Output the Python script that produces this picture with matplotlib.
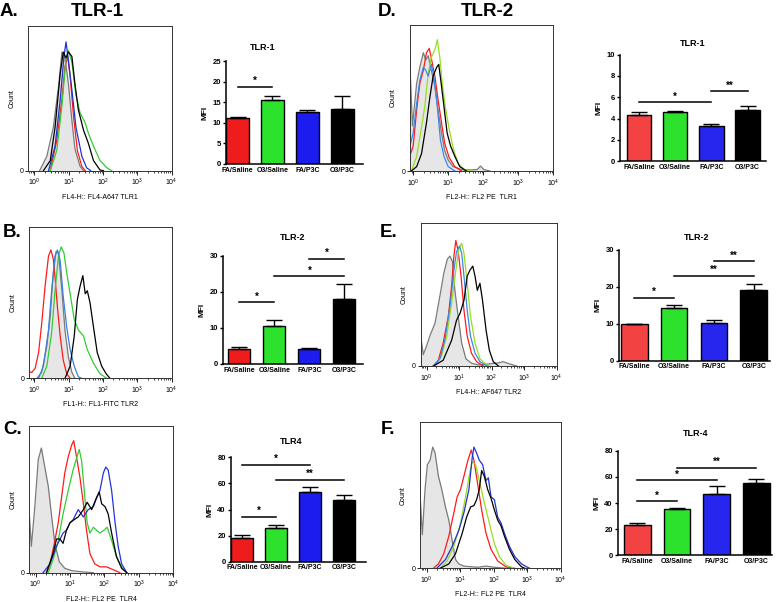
import matplotlib
matplotlib.use('Agg')
import matplotlib.pyplot as plt
import numpy as np
from matplotlib.ticker import LogLocator, NullFormatter

plt.rcParams['font.family'] = ['Liberation Sans', 'DejaVu Sans']

W, H = 778, 602

groups = ['FA/Saline', 'O3/Saline', 'FA/P3C', 'O3/P3C']

# bar charts: mean MFI, upper SEM, significance brackets (from, to, height, stars)
a_mfi = [11.1, 15.5, 12.7, 13.4]
a_sem = [0.4, 1.0, 0.4, 3.1]
a_sig = [(0, 1, 18.7, '*')]

b_mfi = [4.25, 10.55, 4.17, 18.1]
b_sem = [0.55, 1.65, 0.15, 4.0]
b_sig = [(0, 1, 17.1, '*'), (1, 3, 24.3, '*'), (2, 3, 29.1, '*')]

c_mfi = [18.4, 26.2, 53.6, 46.9]
c_sem = [1.9, 2.0, 3.6, 3.9]
c_sig = [(0, 1, 34.6, '*'), (0, 2, 74.1, '*'), (1, 3, 62.8, '**')]

d_mfi = [4.31, 4.59, 3.34, 4.84]
d_sem = [0.28, 0.15, 0.19, 0.31]
d_sig = [(0, 2, 5.53, '*'), (2, 3, 6.56, '**')]

e_mfi = [9.86, 14.36, 10.3, 19.1]
e_sem = [0.1, 0.7, 0.65, 1.7]
e_sig = [(0, 1, 17.0, '*'), (1, 3, 23.0, '**'), (2, 3, 27.0, '**')]

f_mfi = [23.2, 35.2, 47.1, 55.5]
f_sem = [1.3, 1.2, 5.9, 2.9]
f_sig = [(0, 1, 41.3, '*'), (0, 2, 57.4, '*'), (1, 3, 66.8, '**')]

# flow histograms: (log10 fluorescence, count as % of axis height)
a_gray = [(0.15, 0), (0.36, 10), (0.55, 30), (0.70, 58), (0.80, 82), (0.89, 78), (0.99, 60), (1.09, 35), (1.18, 15), (1.33, 3), (1.43, 0)]
a_red = [(0.46, 0), (0.65, 21), (0.80, 49), (0.89, 72), (0.97, 79), (1.04, 65), (1.14, 37), (1.25, 14), (1.38, 3), (1.48, 0)]
a_green = [(0.46, 0), (0.65, 14), (0.80, 45), (0.92, 78), (0.99, 83), (1.09, 75), (1.21, 52), (1.33, 40), (1.48, 33), (1.57, 26), (1.72, 17), (1.91, 7), (2.11, 2), (2.25, 0)]
a_blue = [(0.41, 0), (0.60, 17), (0.75, 49), (0.86, 79), (0.92, 89), (0.99, 76), (1.09, 56), (1.21, 30), (1.38, 10), (1.52, 2), (1.64, 0)]
a_black = [(0.26, 0), (0.46, 7), (0.60, 30), (0.75, 67), (0.84, 82), (0.92, 78), (0.99, 82), (1.09, 79), (1.18, 60), (1.28, 42), (1.43, 28), (1.57, 19), (1.72, 7), (1.91, 0.5), (2.01, 0)]

b_gray = [(0.07, 0), (0.21, 4), (0.36, 21), (0.46, 41), (0.55, 70), (0.63, 84), (0.70, 83), (0.80, 58), (0.89, 32), (0.99, 14), (1.09, 4), (1.18, 0)]
b_red = [(-0.15, 4.4), (-0.08, 3.8), (0.02, 6.6), (0.12, 17), (0.21, 36), (0.31, 61), (0.41, 81), (0.48, 85), (0.55, 79), (0.60, 67), (0.67, 47), (0.75, 28), (0.84, 12), (0.94, 3), (1.04, 0)]
b_green = [(0.21, 0), (0.36, 8), (0.50, 30), (0.60, 58), (0.70, 81), (0.78, 87), (0.86, 83), (0.94, 70), (1.04, 56), (1.16, 39), (1.28, 32), (1.43, 28), (1.54, 19), (1.72, 10), (1.91, 3), (2.11, 0)]
b_blue = [(0.12, 0), (0.26, 8), (0.41, 32), (0.50, 58), (0.60, 81), (0.67, 85), (0.75, 78), (0.84, 54), (0.94, 34), (1.04, 19), (1.16, 8), (1.28, 1), (1.38, 0)]
b_black = [(0.89, 0), (1.04, 8), (1.16, 28), (1.25, 52), (1.33, 61), (1.41, 68), (1.48, 56), (1.54, 58), (1.62, 50), (1.72, 34), (1.83, 17), (1.96, 8), (2.09, 3), (2.20, 0)]

c_gray = [(-0.18, 40), (-0.12, 18), (-0.02, 45), (0.08, 77), (0.17, 85), (0.27, 72), (0.37, 59), (0.47, 38), (0.56, 20), (0.69, 7.5), (0.85, 3), (1.05, 1.4), (1.39, 0.5), (1.68, 0)]
c_red = [(0.32, 0), (0.42, 6), (0.53, 18), (0.66, 34), (0.76, 52), (0.85, 68), (0.95, 79), (1.05, 87), (1.11, 90), (1.19, 79), (1.29, 65), (1.39, 47), (1.48, 29), (1.58, 13), (1.72, 6), (1.87, 4), (2.06, 4), (2.26, 2), (2.45, 0)]
c_green = [(0.37, 0), (0.51, 9), (0.66, 22), (0.80, 40), (0.95, 56), (1.09, 70), (1.19, 78), (1.27, 84), (1.34, 76), (1.43, 52), (1.50, 34), (1.58, 27), (1.68, 31), (1.77, 29), (1.87, 27), (1.99, 29), (2.08, 31), (2.21, 22), (2.35, 11), (2.50, 4), (2.65, 0)]
c_blue = [(0.22, 0), (0.42, 6), (0.61, 18), (0.80, 27), (0.90, 29), (1.00, 34), (1.09, 36), (1.24, 43), (1.39, 38), (1.53, 43), (1.68, 45), (1.79, 52), (1.87, 56), (1.97, 68), (2.04, 72), (2.11, 70), (2.21, 56), (2.31, 34), (2.40, 18), (2.50, 6), (2.65, 0)]
c_black = [(0.32, 0), (0.51, 13), (0.61, 23), (0.71, 23), (0.80, 20), (0.90, 29), (1.00, 34), (1.11, 36), (1.24, 38), (1.39, 43), (1.50, 48), (1.63, 43), (1.75, 50), (1.85, 55), (1.92, 47), (2.02, 45), (2.11, 40), (2.21, 27), (2.35, 11), (2.50, 3), (2.65, 0)]

d_gray = [(-0.10, 77), (-0.02, 31), (0.10, 60), (0.19, 71), (0.29, 81), (0.36, 76), (0.43, 79), (0.52, 69), (0.62, 58), (0.71, 42), (0.81, 26), (0.90, 14), (1.00, 7.5), (1.14, 3), (1.38, 1), (1.62, 0.7), (1.83, 1), (1.92, 3.4), (2.02, 1), (2.19, 0)]
d_red = [(-0.10, 10), (0.00, 17), (0.10, 42), (0.19, 60), (0.29, 69), (0.38, 81), (0.46, 84), (0.52, 77), (0.62, 65), (0.71, 49), (0.81, 33), (0.90, 19), (1.03, 9), (1.19, 3), (1.38, 0)]
d_green = [(-0.05, 0), (0.10, 10), (0.24, 30), (0.33, 44), (0.43, 67), (0.52, 78), (0.62, 83), (0.69, 90), (0.76, 78), (0.84, 58), (0.93, 42), (1.05, 26), (1.16, 14), (1.29, 5), (1.48, 0.7), (1.67, 0)]
d_blue = [(-0.10, 16), (0.00, 26), (0.10, 46), (0.19, 62), (0.29, 71), (0.36, 69), (0.43, 65), (0.52, 73), (0.59, 65), (0.69, 44), (0.78, 21), (0.88, 10), (1.00, 3), (1.19, 0)]
d_black = [(-0.05, 0), (0.10, 3), (0.24, 12), (0.38, 33), (0.48, 51), (0.57, 65), (0.67, 71), (0.73, 73), (0.81, 58), (0.89, 42), (0.97, 26), (1.07, 17), (1.19, 10), (1.33, 3), (1.52, 0)]

e_gray = [(-0.18, 21), (-0.10, 8), (0.00, 14), (0.10, 21), (0.26, 30), (0.41, 49), (0.53, 65), (0.64, 75), (0.72, 77), (0.80, 73), (0.87, 53), (0.97, 35), (1.08, 16), (1.21, 5), (1.38, 2), (1.59, 0.7), (2.15, 2), (2.36, 3), (2.56, 1.4), (2.77, 0)]
e_red = [(0.21, 0), (0.36, 4), (0.51, 16), (0.67, 35), (0.77, 56), (0.84, 77), (0.90, 88), (0.97, 81), (1.06, 63), (1.15, 39), (1.25, 21), (1.38, 9), (1.54, 3), (1.74, 0)]
e_green = [(0.26, 0), (0.46, 7), (0.62, 21), (0.77, 44), (0.90, 67), (0.99, 82), (1.08, 86), (1.15, 79), (1.25, 58), (1.35, 35), (1.49, 16), (1.64, 5), (1.85, 0.7), (1.95, 0)]
e_blue = [(0.21, 0), (0.41, 5), (0.56, 18), (0.72, 42), (0.84, 67), (0.92, 80), (1.01, 84), (1.08, 79), (1.15, 63), (1.25, 39), (1.35, 21), (1.49, 9), (1.64, 3), (1.85, 0)]
e_black = [(0.21, 0), (0.51, 4), (0.77, 18), (0.92, 32), (1.03, 37), (1.15, 46), (1.25, 63), (1.33, 67), (1.42, 70), (1.49, 63), (1.56, 53), (1.64, 58), (1.72, 46), (1.83, 25), (1.93, 11), (2.05, 3), (2.21, 0)]

f_gray = [(-0.20, 51), (-0.13, 23), (-0.05, 54), (0.02, 71), (0.10, 74), (0.18, 83), (0.25, 79), (0.35, 63), (0.45, 54), (0.56, 42), (0.66, 33), (0.76, 19), (0.86, 6), (0.96, 3), (1.11, 1.5), (1.52, 0.7), (1.77, 1.5), (2.02, 0.7), (2.42, 0)]
f_red = [(0.20, 0), (0.35, 3), (0.51, 10), (0.66, 22), (0.81, 38), (0.91, 49), (1.01, 54), (1.11, 63), (1.23, 74), (1.33, 81), (1.41, 74), (1.52, 58), (1.64, 40), (1.77, 24), (1.92, 13), (2.12, 5), (2.37, 1), (2.63, 0)]
f_green = [(0.40, 0), (0.61, 5), (0.81, 15), (1.01, 31), (1.16, 49), (1.28, 65), (1.36, 73), (1.46, 71), (1.57, 60), (1.72, 45), (1.87, 31), (2.02, 17), (2.17, 8), (2.37, 2), (2.63, 0)]
f_blue = [(0.30, 0), (0.56, 6), (0.76, 15), (0.96, 26), (1.11, 38), (1.26, 54), (1.36, 76), (1.41, 83), (1.49, 79), (1.57, 74), (1.67, 71), (1.77, 60), (1.84, 62), (1.92, 49), (2.02, 47), (2.12, 35), (2.22, 31), (2.32, 24), (2.47, 15), (2.63, 8), (2.83, 3), (2.98, 1), (3.08, 0)]
f_black = [(0.40, 0), (0.66, 3), (0.86, 10), (1.06, 24), (1.19, 35), (1.31, 42), (1.41, 43), (1.49, 47), (1.57, 54), (1.64, 67), (1.72, 63), (1.82, 54), (1.92, 48), (2.02, 40), (2.12, 33), (2.22, 29), (2.32, 22), (2.47, 13), (2.63, 6), (2.83, 1), (2.93, 0)]

bar_cols_left = ['#ee1c1c', '#2de22d', '#1c1cee', '#000000']
bar_cols_right = ['#f24242', '#2de22d', '#2626ee', '#000000']


def px_axes(fig, l, t, r, b):
    return fig.add_axes([l / W, 1 - b / H, (r - l) / W, (b - t) / H])


def bar_panel(ax, mfi, sem, sig, ymax, ystep, xlim, width, colors):
    x = np.arange(len(groups))
    ax.bar(x, mfi, width=width, color=colors, edgecolor='black', linewidth=1.0, zorder=2)
    ax.errorbar(x, mfi, yerr=[np.zeros(len(x)), sem], fmt='none', ecolor='black',
                elinewidth=1.0, capsize=5.5, capthick=1.0, zorder=3)
    for i, j, y, lab in sig:
        ax.plot([i, j], [y, y], color='black', lw=1.1, clip_on=False)
        ax.annotate(lab, ((i + j) / 2, y), xytext=(0, 0.5), textcoords='offset points',
                    ha='center', va='bottom', fontsize=7, fontweight='bold')
    ax.set_xlim(*xlim)
    ax.set_ylim(0, ymax)
    ax.set_yticks(np.arange(0, ymax + ystep / 2, ystep))
    ax.set_xticks(x)
    ax.set_xticklabels(groups, fontweight='bold')
    for s in ['top', 'right']:
        ax.spines[s].set_visible(False)
    for s in ['left', 'bottom']:
        ax.spines[s].set_linewidth(1.1)
    ax.tick_params(axis='y', length=2.5, width=1.0, labelsize=5.5, pad=1)
    ax.tick_params(axis='x', length=0, labelsize=5.0, pad=2)
    for t in ax.get_yticklabels():
        t.set_fontweight('bold')
    ax.set_ylabel('MFI', fontsize=6, fontweight='bold', labelpad=3)


def hist_panel(ax, gray, red, green, blue, black, green_col, blue_col, xmin, xlabel):
    gx, gy = np.array(gray).T
    ax.fill_between(10 ** gx, gy, color='#e6e6e6', lw=0)
    ax.plot(10 ** gx, gy, color='#7a7a7a', lw=0.9)
    for pts, col in [(red, '#ff1a1a'), (green, green_col), (blue, blue_col), (black, 'black')]:
        px, py = np.array(pts).T
        ax.plot(10 ** px, py, color=col, lw=0.9)
    ax.set_xscale('log')
    ax.set_xlim(10 ** xmin, 1e4)
    ax.set_ylim(0, 100)
    ax.xaxis.set_major_locator(LogLocator(base=10, numticks=10))
    ax.xaxis.set_minor_locator(LogLocator(base=10, subs=np.arange(2, 10), numticks=10))
    ax.xaxis.set_minor_formatter(NullFormatter())
    ax.set_yticks([0])
    ax.tick_params(axis='x', which='major', length=3, width=0.6, labelsize=5, pad=1.5)
    ax.tick_params(axis='x', which='minor', length=1.6, width=0.5)
    ax.tick_params(axis='y', length=2, width=0.6, labelsize=5, pad=1.5)
    for s in ax.spines.values():
        s.set_linewidth(0.7)
        s.set_color('#333333')
    ax.set_xlabel(xlabel, fontsize=5, labelpad=4)
    ax.set_ylabel('Count', fontsize=5, labelpad=3)


fig = plt.figure(figsize=(W / 100, H / 100), dpi=100)

ax = px_axes(fig, 28.3, 26, 171.7, 170.7)
hist_panel(ax, a_gray, a_red, a_green, a_blue, a_black, '#33cc33', '#2233cc', -0.18, 'FL4-H:: FL4-A647 TLR1')
ax = px_axes(fig, 29.3, 227.3, 171.7, 378.3)
hist_panel(ax, b_gray, b_red, b_green, b_blue, b_black, '#33cc33', '#3a80e0', -0.15, 'FL1-H:: FL1-FITC TLR2')
ax = px_axes(fig, 29.3, 426, 173.3, 572.7)
hist_panel(ax, c_gray, c_red, c_green, c_blue, c_black, '#33cc33', '#2233dd', -0.18, 'FL2-H:: FL2 PE  TLR4')
ax = px_axes(fig, 410, 25, 553.3, 171)
hist_panel(ax, d_gray, d_red, d_green, d_blue, d_black, '#99dd22', '#3a88e8', -0.09, 'FL2-H:: FL2 PE  TLR1')
ax = px_axes(fig, 420.7, 223.3, 556.7, 366)
hist_panel(ax, e_gray, e_red, e_green, e_blue, e_black, '#99dd22', '#3a88e0', -0.18, 'FL4-H:: AF647 TLR2')
ax = px_axes(fig, 420, 422.3, 560.7, 568.3)
hist_panel(ax, f_gray, f_red, f_green, f_blue, f_black, '#99dd22', '#2233cc', -0.2, 'FL2-H:: FL2 PE  TLR4')

ax = px_axes(fig, 226, 61, 363, 164)
bar_panel(ax, a_mfi, a_sem, a_sig, 25, 5, (-0.33, 3.59), 0.66, bar_cols_left)
ax = px_axes(fig, 223, 255.7, 363, 364)
bar_panel(ax, b_mfi, b_sem, b_sig, 30, 10, (-0.47, 3.53), 0.63, bar_cols_left)
ax = px_axes(fig, 230.7, 457.3, 366, 561.7)
bar_panel(ax, c_mfi, c_sem, c_sig, 80, 20, (-0.33, 3.65), 0.66, bar_cols_left)
ax = px_axes(fig, 620, 54.6, 766, 161.3)
bar_panel(ax, d_mfi, d_sem, d_sig, 10, 2, (-0.52, 3.51), 0.68, bar_cols_right)
ax = px_axes(fig, 619.3, 250, 770, 360.7)
bar_panel(ax, e_mfi, e_sem, e_sig, 30, 10, (-0.38, 3.41), 0.67, bar_cols_right)
ax = px_axes(fig, 617.7, 450.7, 772, 555.3)
bar_panel(ax, f_mfi, f_sem, f_sig, 80, 20, (-0.5, 3.4), 0.68, bar_cols_right)

# bar chart titles
for x, y, s in [(263, 47, 'TLR-1'), (293, 237, 'TLR-2'), (291, 442, 'TLR4'),
                (693, 43, 'TLR-1'), (697, 237, 'TLR-2'), (696, 434, 'TLR-4')]:
    fig.text(x / W, 1 - y / H, s, ha='center', va='center', fontsize=6.5, fontweight='bold')

# column titles and panel letters
fig.text(97 / W, 1 - 12 / H, 'TLR-1', ha='center', va='center', fontsize=13.5, fontweight='bold')
fig.text(487 / W, 1 - 12 / H, 'TLR-2', ha='center', va='center', fontsize=13.5, fontweight='bold')
for x, y, s in [(0, 12, 'A.'), (3, 233, 'B.'), (3, 430, 'C.'),
                (378, 12, 'D.'), (380, 233, 'E.'), (381, 429, 'F.')]:
    fig.text(x / W, 1 - y / H, s, ha='left', va='center', fontsize=13.5, fontweight='bold')

fig.savefig('out.png', dpi=100)
